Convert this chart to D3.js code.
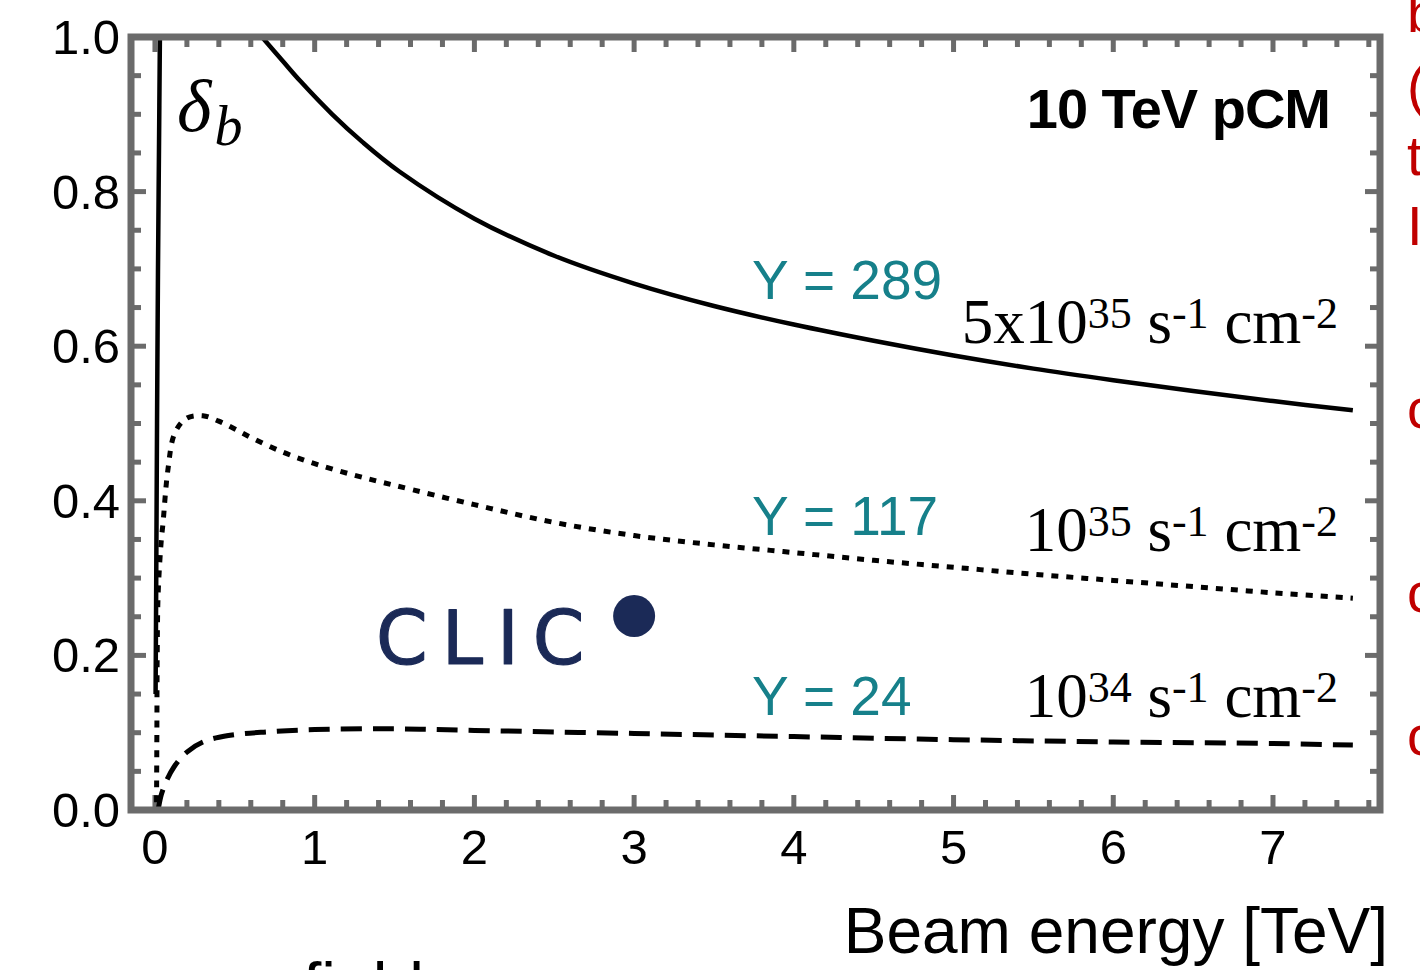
<!DOCTYPE html>
<html><head><meta charset="utf-8">
<script src="https://cdn.jsdelivr.net/npm/d3@7"></script>
<style>html,body{margin:0;padding:0;background:#fff;overflow:hidden}</style>
</head><body>
<svg id="chart" width="1420" height="970"></svg>
<script>
// Beamstrahlung parameter delta_b vs beam energy for a 10 TeV pCM collider
const xTicks = [0, 1, 2, 3, 4, 5, 6, 7];
const yTicks = [0.0, 0.2, 0.4, 0.6, 0.8, 1.0];

// 5x10^35 s^-1 cm^-2 (Y = 289); null marks where the curve leaves the frame
const lumi5e35 = [
  [0.004, 0.15], [0.008, 0.30], [0.013, 0.50], [0.019, 0.70], [0.025, 0.85], [0.031, 1.0],
  null,
  [0.67, 1.0], [0.8, 0.969], [0.91, 0.943], [1.11, 0.900], [1.3, 0.864], [1.53, 0.826],
  [2.0, 0.765], [2.5, 0.717], [3.0, 0.681], [3.5, 0.652], [4.0, 0.628], [4.5, 0.607],
  [5.0, 0.588], [5.5, 0.571], [6.0, 0.556], [6.5, 0.542], [7.0, 0.529], [7.5, 0.517]
];
// 10^35 s^-1 cm^-2 (Y = 117)
const lumi1e35 = [
  [0.010, 0.01], [0.012, 0.10], [0.014, 0.20], [0.02, 0.28], [0.04, 0.35], [0.05, 0.37],
  [0.081, 0.44], [0.125, 0.488], [0.2, 0.507], [0.3, 0.51], [0.4, 0.503], [0.5, 0.493],
  [0.6, 0.482], [0.8, 0.463], [1.0, 0.448], [1.25, 0.433], [1.5, 0.42], [2.0, 0.395],
  [2.5, 0.372], [3.0, 0.355], [3.5, 0.343], [4.0, 0.333], [4.5, 0.323], [5.0, 0.314],
  [5.5, 0.305], [6.0, 0.297], [6.5, 0.289], [7.0, 0.281], [7.5, 0.274]
];
// 10^34 s^-1 cm^-2 (Y = 24)
const lumi1e34 = [
  [0.02, 0.0], [0.04, 0.02], [0.075, 0.039], [0.12, 0.056], [0.2, 0.075], [0.3, 0.088],
  [0.45, 0.096], [0.7, 0.101], [1.0, 0.104], [1.5, 0.105], [2.0, 0.103], [3.0, 0.099],
  [4.0, 0.095], [5.0, 0.091], [6.0, 0.088], [7.0, 0.086], [7.5, 0.084]
];
// CLIC operating point
const clicPoint = [3.0, 0.251];

const svg = d3.select("#chart");
const W = 1420, H = 970;
const pL = 131, pR = 1380, pT = 37, pB = 810;

const x = d3.scaleLinear().domain([-0.15, 7.67]).range([pL, pR]);
const y = d3.scaleLinear().domain([0, 1]).range([pB, pT]);

svg.append("rect").attr("width", W).attr("height", H).attr("fill", "#fff");

svg.append("clipPath").attr("id", "plotClip")
  .append("rect").attr("x", pL).attr("y", pT)
  .attr("width", pR - pL).attr("height", pB - pT);

const frameColor = "#6b6b6b";
const g = svg.append("g");

// minor/major ticks on all four sides, pointing inward
const xMinor = d3.range(0, 7.61, 0.2).map(v => +v.toFixed(1));
const yMinor = d3.range(0, 1.001, 0.05).map(v => +v.toFixed(2));
const isMajorX = v => Math.abs(v - Math.round(v)) < 1e-6;
const isMajorY = v => Math.abs(v * 5 - Math.round(v * 5)) < 1e-6;

const tickG = g.append("g").attr("stroke", frameColor).attr("stroke-width", 5);
xMinor.forEach(v => {
  const len = isMajorX(v) ? 15 : 10;
  tickG.append("line").attr("x1", x(v)).attr("x2", x(v)).attr("y1", pB).attr("y2", pB - len);
  tickG.append("line").attr("x1", x(v)).attr("x2", x(v)).attr("y1", pT).attr("y2", pT + len);
});
yMinor.forEach(v => {
  const len = isMajorY(v) ? 15 : 10;
  tickG.append("line").attr("y1", y(v)).attr("y2", y(v)).attr("x1", pL).attr("x2", pL + len);
  tickG.append("line").attr("y1", y(v)).attr("y2", y(v)).attr("x1", pR).attr("x2", pR - len);
});

// curves
const line = d3.line()
  .defined(d => d !== null)
  .x(d => x(d[0])).y(d => y(d[1]))
  .curve(d3.curveCatmullRom.alpha(0.5));

const curves = g.append("g").attr("clip-path", "url(#plotClip)")
  .attr("fill", "none").attr("stroke", "#000");

curves.append("path").datum(lumi5e35).attr("d", line).attr("stroke-width", 4.5);
curves.append("path").datum(lumi1e35).attr("d", line).attr("stroke-width", 5)
  .attr("stroke-dasharray", "7,8");
curves.append("path").datum(lumi1e34).attr("d", line).attr("stroke-width", 5)
  .attr("stroke-dasharray", "21,11");

// frame
g.append("rect").attr("x", pL).attr("y", pT)
  .attr("width", pR - pL).attr("height", pB - pT)
  .attr("fill", "none").attr("stroke", frameColor).attr("stroke-width", 7);

// tick labels
const tickFont = "'Liberation Sans', Arial, Helvetica, sans-serif";
g.append("g").selectAll("text").data(xTicks).join("text")
  .attr("x", d => x(d)).attr("y", 864)
  .attr("text-anchor", "middle")
  .attr("font-family", tickFont).attr("font-size", 49).attr("fill", "#000")
  .text(d => d3.format("d")(d));
g.append("g").selectAll("text").data(yTicks).join("text")
  .attr("x", 120).attr("y", d => y(d) + 17)
  .attr("text-anchor", "end")
  .attr("font-family", tickFont).attr("font-size", 49).attr("fill", "#000")
  .text(d => d3.format(".1f")(d));

// axis title
svg.append("text").attr("x", 1388).attr("y", 953).attr("text-anchor", "end")
  .attr("font-family", tickFont).attr("font-size", 64).attr("fill", "#000")
  .text("Beam energy [TeV]");

// panel title
svg.append("text").attr("x", 1330).attr("y", 128).attr("text-anchor", "end")
  .attr("font-family", tickFont).attr("font-weight", "bold")
  .attr("font-size", 56).attr("letter-spacing", -1).attr("fill", "#000")
  .text("10 TeV pCM");

// delta_b label
const serif = "'Liberation Serif', 'Times New Roman', Times, serif";
const dl = svg.append("text").attr("x", 177).attr("y", 131)
  .attr("font-family", serif).attr("font-style", "italic").attr("fill", "#000");
dl.append("tspan").attr("font-size", 74).text("δ");
dl.append("tspan").attr("font-size", 56).attr("dx", 3).attr("dy", 14).text("b");

// Y labels
const teal = "#16808a";
const yLabels = [
  { text: "Y = 289", yv: 299 },
  { text: "Y = 117", yv: 535 },
  { text: "Y = 24", yv: 715 }
];
svg.append("g").selectAll("text").data(yLabels).join("text")
  .attr("x", 752).attr("y", d => d.yv)
  .attr("font-family", tickFont).attr("font-size", 55).attr("fill", teal)
  .text(d => d.text);

// luminosity labels
const lumiLabels = [
  { base: "5x10", exp: "35", yv: 343 },
  { base: "10", exp: "35", yv: 551 },
  { base: "10", exp: "34", yv: 717 }
];
lumiLabels.forEach(l => {
  const t = svg.append("text").attr("x", 1338).attr("y", l.yv).attr("text-anchor", "end")
    .attr("font-family", serif).attr("font-size", 63).attr("fill", "#000");
  t.append("tspan").text(l.base);
  t.append("tspan").attr("font-size", 44).attr("dy", -15).text(l.exp);
  t.append("tspan").attr("dy", 15).text(" s");
  t.append("tspan").attr("font-size", 44).attr("dy", -15).text("-1");
  t.append("tspan").attr("dy", 15).text(" cm");
  t.append("tspan").attr("font-size", 44).attr("dy", -15).text("-2");
});

// CLIC point and label
const navy = "#1b2a57";
svg.append("circle").attr("cx", x(clicPoint[0])).attr("cy", y(clicPoint[1]))
  .attr("r", 21).attr("fill", navy);
svg.append("text").attr("x", 376).attr("y", 664)
  .attr("font-family", "'DejaVu Sans', sans-serif").attr("font-size", 74)
  .attr("letter-spacing", 14).attr("fill", navy).attr("stroke", navy)
  .attr("stroke-width", 1.2).attr("stroke-linejoin", "round")
  .text("CLIC");

// slide text running past the edges
const red = "#c00000";
[["b", 32], ["(", 105], ["t", 175], ["I", 245], ["c", 428], ["c", 612], ["c", 755]].forEach(([s, yy]) => {
  svg.append("text").attr("x", 1407).attr("y", yy)
    .attr("font-family", tickFont).attr("font-size", 56).attr("fill", red).text(s);
});
svg.append("text").attr("x", 303).attr("y", 1009)
  .attr("font-family", tickFont).attr("font-size", 66).attr("fill", "#000")
  .text("field");
</script>
</body></html>
